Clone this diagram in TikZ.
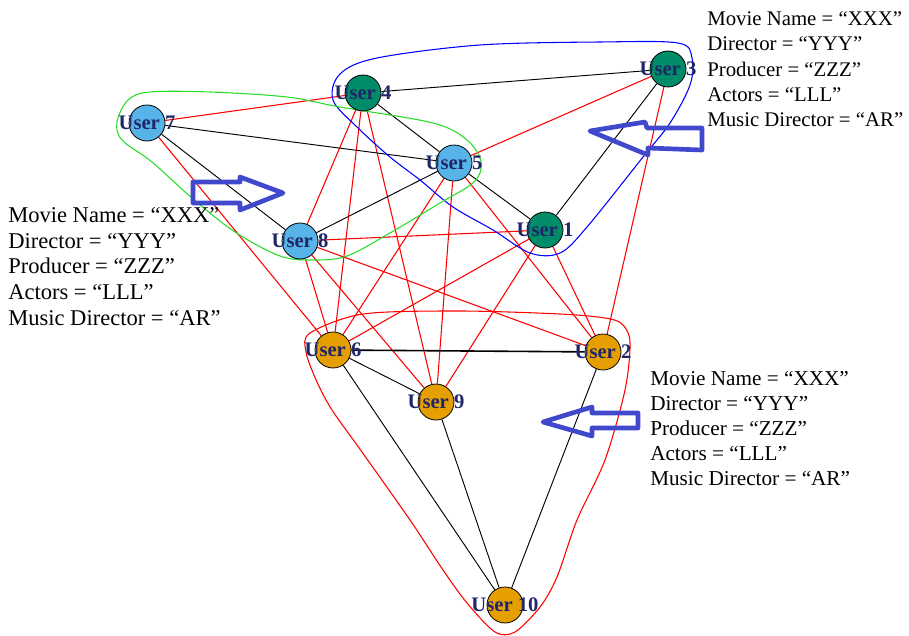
\documentclass[tikz,border=0pt]{standalone}
\usepackage{fontspec}
\setmainfont{Liberation Serif}
\usepackage{xcolor}
\usetikzlibrary{backgrounds}
\definecolor{userblue}{RGB}{86,180,233}
\definecolor{usergreen}{RGB}{0,140,105}
\definecolor{userorange}{RGB}{230,159,0}
\definecolor{labelnavy}{RGB}{31,39,104}
\definecolor{markblue}{RGB}{64,72,204}
\definecolor{lassogreen}{RGB}{40,220,40}

\begin{document}
\begin{tikzpicture}[x=0.75pt, y=-0.75pt,
    user/.style={circle, draw=black, line width=0.6pt, minimum size=27pt, inner sep=0pt},
    ulabel/.style={text=labelnavy, font=\fontsize{15.5}{16}\selectfont\bfseries, inner sep=0pt},
    link/.style={black, line width=0.7pt},
    redlink/.style={red, line width=0.8pt},
    lasso/.style={line width=0.8pt},
    marker/.style={draw=markblue, line width=3.5pt, line join=round},
    info/.style={align=left, anchor=north west, inner sep=0pt}]
            \useasboundingbox (0,0) rectangle (909,635);
            % Nodes
            \node[user, fill=usergreen, label={[ulabel]center:User 3}] (u3) at (668,69) {};
            \node[user, fill=usergreen, label={[ulabel]center:User 4}] (u4) at (363,93) {};
            \node[user, fill=usergreen, label={[ulabel]center:User 1}] (u1) at (545,230) {};
            \node[user, fill=userblue, label={[ulabel]center:User 7}] (u7) at (147,123) {};
            \node[user, fill=userblue, label={[ulabel]center:User 5}] (u5) at (454,163) {};
            \node[user, fill=userblue, label={[ulabel]center:User 8}] (u8) at (300,241) {};
            \node[user, fill=userorange, label={[ulabel]center:User 6}] (u6) at (333,350) {};
            \node[user, fill=userorange, label={[ulabel]center:User 2}] (u2) at (603,352) {};
            \node[user, fill=userorange, label={[ulabel]center:User 9}] (u9) at (436,402) {};
            \node[user, fill=userorange, label={[ulabel]center:User 10}] (u10) at (505,605) {};

            \begin{scope}[on background layer]
            % Red links
            \foreach \a/\b in {u7/u4, u7/u6, u4/u8, u4/u6, u4/u9, u3/u5, u3/u2, u5/u6, u5/u9, u5/u2,
                               u8/u1, u8/u2, u8/u6, u8/u9, u1/u6, u1/u9, u1/u2}
                \draw[redlink] (\a) -- (\b);
            % Black links
            \foreach \a/\b in {u4/u3, u4/u5, u5/u1, u7/u5, u7/u8, u5/u8, u3/u1, u6/u9, u6/u10, u9/u10, u2/u10}
                \draw[link] (\a) -- (\b);
            \draw[link, line width=1.2pt] (u6) -- (u2);

            % Groups
            \draw[lasso, blue] plot[smooth cycle, tension=0.55] coordinates {(333,100) (340,74) (377,58) (480,45)
                (600,42) (678,43) (692,58) (690,85) (670,123) (643,157) (587,227) (560,253) (530,253)
                (493,230) (453,207) (420,180) (390,157) (357,127)};
            \draw[lasso, lassogreen] plot[smooth cycle, tension=0.55] coordinates {(117,122) (128,100) (150,92)
                (210,92) (287,97) (340,107) (433,123) (467,140) (481,162) (474,182) (440,203) (390,233)
                (347,256) (313,260) (280,256) (235,232) (192,198) (152,162) (122,140)};
            \draw[lasso, red] plot[smooth cycle, tension=0.5] coordinates {(310,333) (306,352) (317,382) (332,410)
                (362,452) (410,520) (443,570) (467,603) (495,632) (515,632) (540,607) (557,577) (577,520)
                (605,460) (625,390) (630,342) (622,324) (605,318) (560,314) (460,311) (363,314)};
            \end{scope}

            % Arrows
            \draw[marker] (193,182) -- (240,182) -- (240,177) -- (283,193) -- (240,210) -- (240,203) -- (193,203) -- cycle;
            \draw[marker] (702,128) -- (647,128) -- (645,122) -- (590,131) -- (648,155) -- (648,148) -- (702,150) -- cycle;
            \draw[marker] (638,413) -- (592,413) -- (592,407) -- (543,422) -- (592,436) -- (592,428) -- (638,428) -- cycle;

            % Labels
            \node[info, font=\fontsize{15.6}{19.1}\selectfont] (infoA) at (707,11) {Movie Name = “XXX”\\Director = “YYY”\\Producer = “ZZZ”\\Actors = “LLL”\\Music Director = “AR”};
            \node[info, font=\fontsize{16.9}{19.3}\selectfont] (infoB) at (8,207) {Movie Name = “XXX”\\Director = “YYY”\\Producer = “ZZZ”\\Actors = “LLL”\\Music Director = “AR”};
            \node[info, font=\fontsize{15.9}{18.8}\selectfont] (infoC) at (650,371) {Movie Name = “XXX”\\Director = “YYY”\\Producer = “ZZZ”\\Actors = “LLL”\\Music Director = “AR”};
            \end{tikzpicture}
\end{document}
